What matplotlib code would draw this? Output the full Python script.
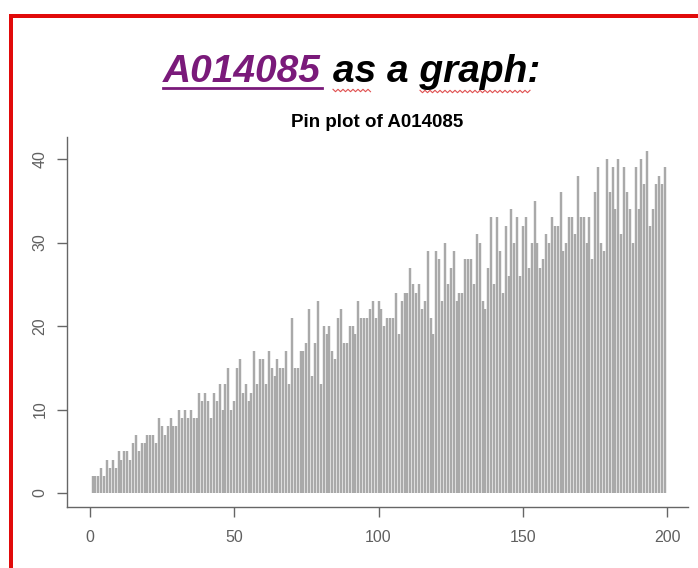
import matplotlib
matplotlib.use("Agg")
import matplotlib.pyplot as plt
from matplotlib.patches import Rectangle
from matplotlib.lines import Line2D

# A014085: number of primes between n^2 and (n+1)^2, n = 0..199
n = list(range(0, 200))
a014085 = [0,
    2, 2, 2, 3, 2, 4, 3, 4, 3, 5, 4, 5, 5, 4, 6, 7, 5, 6, 6, 7,
    7, 7, 6, 9, 8, 7, 8, 9, 8, 8, 10, 9, 10, 9, 10, 9, 9, 12, 11, 12,
    11, 9, 12, 11, 13, 10, 13, 15, 10, 11, 15, 16, 12, 13, 11, 12, 17, 13, 16, 16,
    13, 17, 15, 14, 16, 15, 15, 17, 13, 21, 15, 15, 17, 17, 18, 22, 14, 18, 23, 13,
    20, 19, 20, 17, 16, 21, 22, 18, 18, 20, 20, 19, 23, 21, 21, 21, 22, 23, 21, 23,
    22, 20, 21, 21, 21, 24, 19, 23, 24, 24, 27, 25, 24, 25, 22, 23, 29, 21, 19, 29,
    28, 23, 30, 25, 27, 29, 23, 24, 24, 28, 28, 28, 25, 31, 30, 23, 22, 27, 33, 25,
    33, 29, 24, 32, 26, 34, 30, 33, 26, 32, 33, 27, 30, 35, 30, 27, 28, 31, 30, 33,
    32, 32, 36, 29, 30, 33, 33, 31, 38, 33, 33, 30, 33, 28, 36, 39, 30, 29, 40, 36,
    39, 34, 40, 31, 39, 36, 34, 30, 39, 34, 40, 37, 41, 32, 34, 37, 38, 37, 39]
xticks = [0, 50, 100, 150, 200]
yticks = [0, 10, 20, 30, 40]

W, H = 698, 568
fig = plt.figure(figsize=(W / 100, H / 100), dpi=100, facecolor="white")

# red frame of the screenshot (top and left edges)
fig.patches.append(Rectangle((9 / W, 0), 4 / W, 1 - 14 / H, transform=fig.transFigure,
                             facecolor="#e10a0a", edgecolor="none"))
fig.patches.append(Rectangle((9 / W, 1 - 17.5 / H), 1 - 9 / W, 3.5 / H, transform=fig.transFigure,
                             facecolor="#e10a0a", edgecolor="none"))

# heading
base = 1 - 82 / H
fig.text(163 / W, base, "A014085", color="#7a1a7a", fontsize=28, fontweight="bold",
         fontstyle="italic", family="Liberation Sans", va="baseline", ha="left")
fig.text(333 / W, base, "as a graph:", color="black", fontsize=28, fontweight="bold",
         fontstyle="italic", family="Liberation Sans", va="baseline", ha="left")
fig.lines.append(Line2D([163 / W, 322 / W], [1 - 87.5 / H, 1 - 87.5 / H], transform=fig.transFigure,
                        color="#7a1a7a", linewidth=2))


def squiggle(x0, x1, y):
    # spell-check underline
    xs, ys = [], []
    k = 0
    x = x0
    while x <= x1:
        xs.append(x / W)
        ys.append(1 - (y + (1.2 if k % 2 else -1.2)) / H)
        x += 2.5
        k += 1
    fig.lines.append(Line2D(xs, ys, transform=fig.transFigure, color="#e05050", linewidth=0.8))


squiggle(333, 372, 90.5)
squiggle(420, 530, 91.5)

ax = fig.add_axes([66.7 / W, 1 - 506.7 / H, (687.5 - 66.7) / W, (506.7 - 137) / H])
ax.vlines(n, 0, a014085, color="#a9a9a9", linewidth=1.75)
ax.set_xlim(-7.96, 206.96)
ax.set_ylim(-1.64, 42.64)
ax.set_xticks(xticks)
ax.set_yticks(yticks)
for s in ["top", "right"]:
    ax.spines[s].set_visible(False)
for s in ["left", "bottom"]:
    ax.spines[s].set_color("#666666")
    ax.spines[s].set_linewidth(1.0)
ax.tick_params(axis="both", length=7, width=1, color="#666666", labelcolor="#606060",
               labelsize=11.5)
ax.tick_params(axis="x", pad=10)
ax.tick_params(axis="y", pad=7)
for lab in ax.get_yticklabels():
    lab.set_rotation(90)
    lab.set_va("center")
for lab in ax.get_xticklabels() + ax.get_yticklabels():
    lab.set_family("Liberation Sans")
ax.set_title("Pin plot of A014085", fontsize=13.5, fontweight="bold", family="Liberation Sans",
             pad=7)

fig.savefig("out.png", dpi=100, facecolor="white")
